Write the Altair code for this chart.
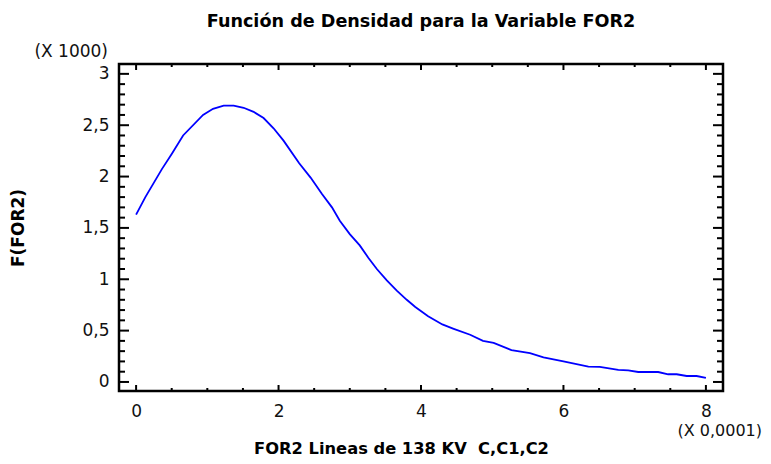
import altair as alt
import pandas as pd

# Curve values (x in units of 0.0001, density in units of 1000)
x_vals = [0.00, 0.13, 0.36, 0.50, 0.66, 0.94, 1.08, 1.23, 1.37, 1.51, 1.65, 1.79,
          1.93, 2.07, 2.29, 2.45, 2.61, 2.75, 2.86, 3.00, 3.14, 3.26, 3.38, 3.52,
          3.66, 3.80, 3.92, 4.10, 4.30, 4.45, 4.69, 4.87, 5.02, 5.27, 5.53, 5.72,
          6.00, 6.35, 6.51, 6.77, 6.91, 7.05, 7.33, 7.47, 7.59, 7.73, 7.87, 8.00]
y_vals = [1.63, 1.80, 2.07, 2.22, 2.40, 2.60, 2.66, 2.69, 2.69, 2.67, 2.63, 2.57,
          2.47, 2.35, 2.13, 1.99, 1.83, 1.70, 1.57, 1.44, 1.33, 1.21, 1.10, 0.99,
          0.89, 0.80, 0.73, 0.64, 0.56, 0.52, 0.46, 0.40, 0.38, 0.31, 0.28, 0.24,
          0.20, 0.15, 0.146, 0.117, 0.113, 0.097, 0.097, 0.075, 0.075, 0.058, 0.058, 0.039]

# Tick values
x_major = [0, 2, 4, 6, 8]
x_minor = [0.5, 1, 1.5, 2.5, 3, 3.5, 4.5, 5, 5.5, 6.5, 7, 7.5]
y_major = [0, 0.5, 1, 1.5, 2, 2.5, 3]
y_minor = [0.1, 0.2, 0.3, 0.4, 0.6, 0.7, 0.8, 0.9, 1.1, 1.2, 1.3, 1.4,
           1.6, 1.7, 1.8, 1.9, 2.1, 2.2, 2.3, 2.4, 2.6, 2.7, 2.8, 2.9]

title_text = "Función de Densidad para la Variable FOR2"
x_title = "FOR2 Lineas de 138 KV \u00a0C,C1,C2"
y_title = "F(FOR2)"
y_mult = "(X 1000)"
x_mult = "(X 0,0001)"

W, H = 604, 327
XDOM = [-0.24, 8.24]
YDOM = [-0.088, 3.096]
LABEL_FONT = "DejaVu Sans"
TITLE_FONT = "DejaVu Sans"
LFS = 17

xs = alt.Scale(domain=XDOM, nice=False, zero=False)
ys = alt.Scale(domain=YDOM, nice=False, zero=False)

x_axis = alt.Axis(
    values=x_major, ticks=False, domain=False, grid=False,
    labelFont=LABEL_FONT, labelFontSize=LFS, labelColor="#111",
    labelPadding=12, labelFlush=False,
    title=x_title, titleFont=TITLE_FONT, titleFontSize=16.3, titleFontWeight="bold",
    titleColor="#000", titleX=282, titleY=62, titleBaseline="alphabetic", titleAlign="center")
y_axis = alt.Axis(
    values=y_major, ticks=False, domain=False, grid=False,
    labelExpr="replace(format(datum.value, '~g'), '.', ',')",
    labelFont=LABEL_FONT, labelFontSize=LFS, labelColor="#111",
    labelPadding=10, labelFlush=False,
    title=y_title, titleFont=TITLE_FONT, titleFontSize=17, titleFontWeight="bold",
    titleColor="#000", titleX=-101, titleY=163.5, titleAngle=-90,
    titleBaseline="middle", titleAlign="center")

curve = pd.DataFrame({"x": x_vals, "y": y_vals})

line = alt.Chart(curve).mark_line(color="#0000ff", strokeWidth=1.8).encode(
    x=alt.X("x:Q", scale=xs, axis=x_axis),
    y=alt.Y("y:Q", scale=ys, axis=y_axis),
)


def yticks(vals, x0, x1):
    return alt.Chart(pd.DataFrame({"y": vals})).mark_rule(color="black", strokeWidth=2).encode(
        y=alt.Y("y:Q", scale=ys, axis=y_axis), x=alt.value(x0), x2=alt.value(x1))


def xticks(vals, y0, y1):
    return alt.Chart(pd.DataFrame({"x": vals})).mark_rule(color="black", strokeWidth=2).encode(
        x=alt.X("x:Q", scale=xs, axis=x_axis), y=alt.value(y0), y2=alt.value(y1))


ticks = [
    yticks(y_major, 0, 10), yticks(y_minor, 0, 6),
    yticks(y_major, W, W - 10), yticks(y_minor, W, W - 6),
    xticks(x_major, H, H - 6), xticks(x_minor, H, H - 3),
    xticks(x_major, 0, 6), xticks(x_minor, 0, 3),
]

ann = pd.DataFrame({"t": [y_mult]})
ymult_text = alt.Chart(ann).mark_text(
    font=LABEL_FONT, fontSize=LFS, color="#111", align="right", baseline="middle"
).encode(text="t:N", x=alt.value(-11), y=alt.value(-12))

ann2 = pd.DataFrame({"t": [x_mult]})
xmult_text = alt.Chart(ann2).mark_text(
    font=LABEL_FONT, fontSize=16, color="#111", align="right", baseline="middle"
).encode(text="t:N", x=alt.value(643), y=alt.value(367))

chart = alt.layer(line, *ticks, ymult_text, xmult_text).properties(
    width=W, height=H,
    background="white",
    title=alt.TitleParams(title_text, font=TITLE_FONT, fontSize=17.6, fontWeight="bold",
                          color="#000", anchor="middle", frame="group", offset=12),
    autosize=alt.AutoSizeParams(type="none"),
    padding={"left": 111, "top": 56, "right": 40, "bottom": 65},
).configure_view(stroke="black", strokeWidth=2.5)

chart.save("out.html", embed_options={"renderer": "svg", "actions": False})
